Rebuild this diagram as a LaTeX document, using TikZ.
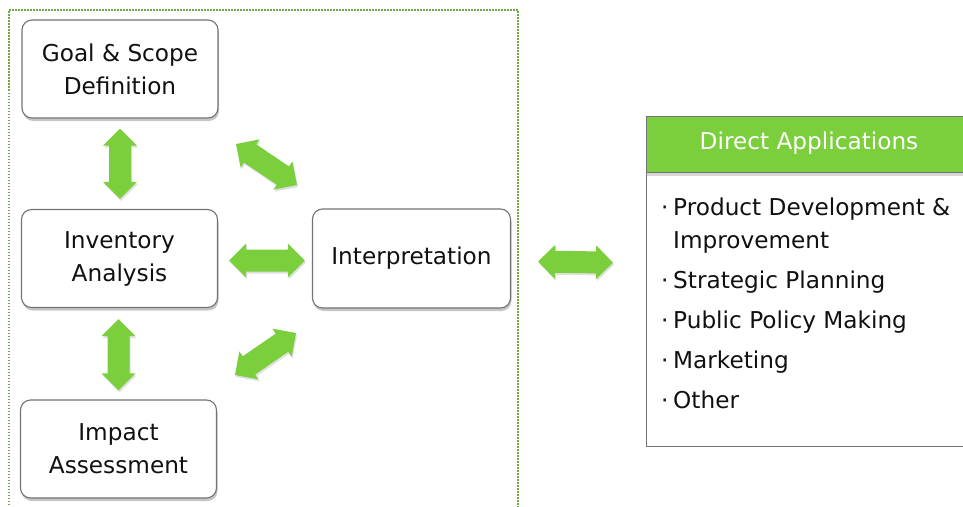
\documentclass[tikz,border=0pt]{standalone}
\usepackage{fontspec}
\setmainfont{DejaVu Sans}
\usetikzlibrary{calc,shadows}
\definecolor{agreen}{RGB}{123,206,60}
\definecolor{fgreen}{RGB}{112,168,72}
\definecolor{bgray}{RGB}{115,115,115}
\definecolor{tblack}{RGB}{17,17,17}
\tikzset{
  stage/.style={draw=bgray, line width=1.1pt, rounded corners=10pt, fill=white,
    minimum width=196pt, minimum height=98pt, align=center, inner sep=0pt,
    text=tblack, font=\fontsize{23.2}{33}\selectfont,
    drop shadow={shadow xshift=1pt, shadow yshift=-3pt, opacity=0.45}},
  listtext/.style={anchor=base west, inner sep=0pt, text=tblack, font=\fontsize{23.2}{33}\selectfont},
  arrowfill/.style={fill=agreen, drop shadow={shadow xshift=1pt, shadow yshift=-2pt, opacity=0.25}},
}
\newcommand\blockarrow[2]{%
  \path[arrowfill] (#1)
  -- ($(#1)!17pt!(#2)!17pt!90:(#2)$)
  -- ($(#1)!17pt!(#2)!11pt!90:(#2)$)
  -- ($(#2)!17pt!(#1)!11pt!-90:(#1)$)
  -- ($(#2)!17pt!(#1)!17pt!-90:(#1)$)
  -- (#2)
  -- ($(#2)!17pt!(#1)!17pt!90:(#1)$)
  -- ($(#2)!17pt!(#1)!11pt!90:(#1)$)
  -- ($(#1)!17pt!(#2)!11pt!-90:(#2)$)
  -- ($(#1)!17pt!(#2)!17pt!-90:(#2)$)
  -- cycle;}
\begin{document}
\begin{tikzpicture}[x=1pt,y=-1pt]
\useasboundingbox (0,0) rectangle (963,506);
% dotted frame
\draw[fgreen, line width=1.8pt, dash pattern=on 1.5pt off 1.5pt]
  (9,520) -- (9,10) -- (518,10) -- (518,520);
% stage boxes
\node[stage] (goal) at (120,69) {Goal \& Scope\\Definition};
\node[stage] (inv) at (119.5,258.5) {Inventory\\Analysis};
\node[stage] (imp) at (118.5,449) {Impact\\Assessment};
\node[stage, minimum width=198pt, minimum height=99pt] (interp) at (411.5,258.5) {Interpretation};
% arrow end points
\coordinate (v1a) at ($(goal.south)+(0,10)$);
\coordinate (v1b) at ($(inv.north)+(0.5,-10)$);
\coordinate (v2a) at ($(inv.south)+(-1,11)$);
\coordinate (v2b) at ($(imp.north)+(0,-9)$);
\coordinate (h1a) at ($(inv.east)+(11,2)$);
\coordinate (h1b) at ($(interp.west)+(-7,2)$);
\coordinate (d1a) at (236,144);
\coordinate (d1b) at (297,185);
\coordinate (d2a) at (235,375);
\coordinate (d2b) at (296,333);
\blockarrow{v1a}{v1b}
\blockarrow{v2a}{v2b}
\blockarrow{h1a}{h1b}
\blockarrow{d1a}{d1b}
\blockarrow{d2a}{d2b}
% applications box
\node[draw=bgray, line width=1.3pt, fill=white, minimum width=330pt, minimum height=274pt,
  inner sep=0pt, anchor=north west] (body) at (646,172) {};
\node[fill=agreen, draw=bgray, line width=1.3pt, minimum width=330pt, minimum height=56pt,
  inner sep=0pt, anchor=north west,
  drop shadow={shadow xshift=0pt, shadow yshift=-3pt, opacity=0.3}] (head) at (646,116) {};
\node[text=white, font=\fontsize{23.2}{33}\selectfont, inner sep=0pt] (headtext) at (809,143) {Direct Applications};
\coordinate (h2a) at ($(interp.east)+(27,3)$);
\coordinate (h2b) at ($(body.west)+(-33,-47)$);
\blockarrow{h2a}{h2b}
% list
\foreach \t/\yy/\nm in {Product Development \&/215/l1, Strategic Planning/288/l2, Public Policy Making/328/l3, Marketing/368/l4, Other/408/l5}{
  \node[listtext] (\nm) at (673,\yy) {\t};
  \node[listtext] (b\nm) at (661,\yy) {·};
}
\node[listtext] (l1b) at (673,248) {Improvement};
\end{tikzpicture}
\end{document}
